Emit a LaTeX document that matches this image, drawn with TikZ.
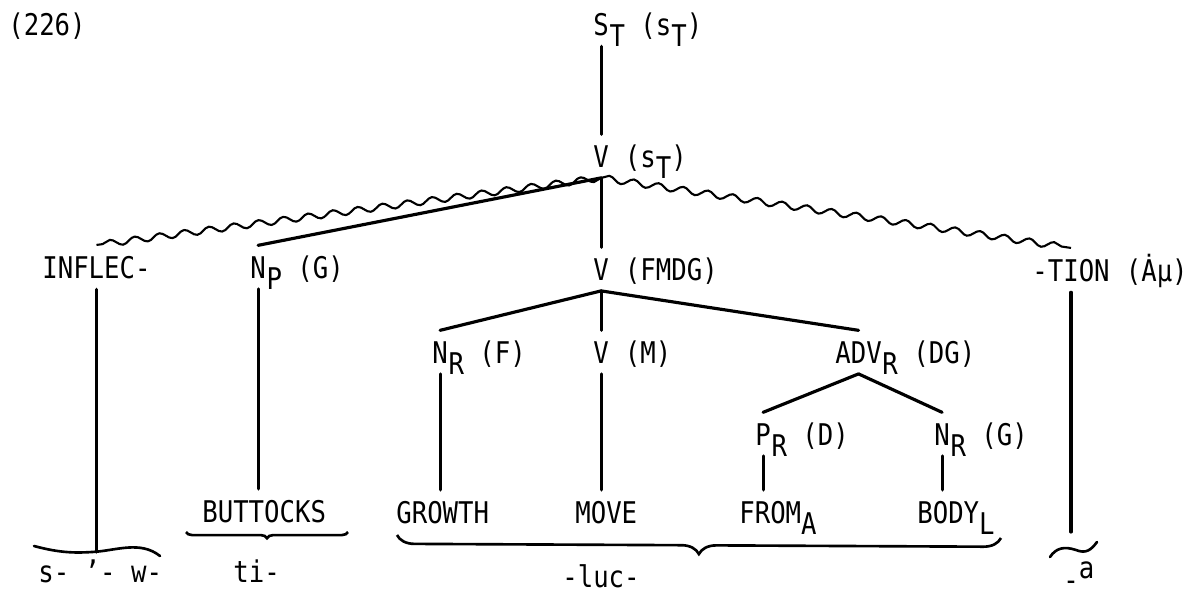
\documentclass[tikz,border=0pt]{standalone}
\usepackage{fontspec}
\setmonofont{DejaVu Sans Mono}[FakeStretch=0.86]
\usepackage{tikz}
\usetikzlibrary{decorations.pathmorphing,decorations.pathreplacing,calc}

\newcommand{\lowr}[1]{\raisebox{-6.5pt}{#1}}

\begin{document}
\begin{tikzpicture}[
        x=0.02cm, y=-0.02cm,
        every node/.style={font=\ttfamily\fontsize{17}{20}\selectfont, inner sep=0pt},
        cat/.style   ={anchor=base west, inner xsep=0pt, inner ysep=6pt},
        feat/.style  ={anchor=base west, inner sep=0pt},
        word/.style  ={anchor=base west, inner xsep=0pt, inner ysep=6pt},
        form/.style  ={anchor=base west, inner sep=0pt},
        branch/.style={line width=1.8pt, line cap=round},
        wavy/.style  ={line width=1.2pt, decorate,
                       decoration={snake, segment length=0.5cm, amplitude=0.065cm}},
        curly/.style ={line width=1.5pt, decorate,
                       decoration={brace, mirror, amplitude=#1}},
        squig/.style ={line width=1.5pt, line cap=round},
    ]
        \useasboundingbox (0,0) rectangle (1201,592);

        % ===================== number =====================
        \node[form] (num) at (8,35) {(226)};

        % ===================== top of the tree =====================
        \node[cat]  (st)     at (593,35)  {S};
        \node[feat] (stx)    at (st.base east) {\lowr{T}\ (s\lowr{T})};
        \node[cat]  (vst)    at (593,167) {V};
        \node[feat] (vstx)   at (vst.base east) {\ (s\lowr{T})};

        % ===================== second level =====================
        \node[cat]  (inflec) at (42,278)  {INFLEC-};
        \node[cat]  (np)     at (250,278) {N};
        \node[feat] (npx)    at (np.base east) {\lowr{P}\ (G)};
        \node[cat]  (vf)     at (593,280) {V};
        \node[feat] (vfx)    at (vf.base east) {\ (FMDG)};
        \node[cat]  (tion)   at (1032,281) {-TION};
        \node[feat] (tionx)  at (tion.base east) {\ (Ȧμ)};

        % ===================== third and fourth level =====================
        \node[cat]  (nrf)    at (432,363) {N};
        \node[feat] (nrfx)   at (nrf.base east) {\lowr{R}\ (F)};
        \node[cat]  (vm)     at (593,363) {V};
        \node[feat] (vmx)    at (vm.base east) {\ (M)};
        \node[cat]  (adv)    at (835,363) {ADV};
        \node[feat] (advx)   at (adv.base east) {\lowr{R}\ (DG)};
        \node[cat]  (pr)     at (755,445) {P};
        \node[feat] (prx)    at (pr.base east) {\lowr{R}\ (D)};
        \node[cat]  (nrg)    at (934,445) {N};
        \node[feat] (nrgx)   at (nrg.base east) {\lowr{R}\ (G)};

        % ===================== leaves =====================
        \node[word] (butt)   at (202,522) {BUTTOCKS};
        \node[word] (growth) at (396,523) {GROWTH};
        \node[word] (move)   at (575,523) {MOVE};
        \node[word] (from)   at (739,523) {FROM\lowr{A}};
        \node[word] (body)   at (917,523) {BODY\lowr{L}};

        % ===================== forms =====================
        \node[form] (sw)     at (38,582)  {s- ’- w-};
        \node[form] (ti)     at (233,582) {ti-};
        \node[form] (luc)    at (562,587) {-luc-};
        \node[form] (aa)     at (1063,580) {\raisebox{-6pt}[0pt][0pt]{-}\raisebox{1pt}{a}};

        % brace points
        \coordinate (infl) at (34,546);
        \coordinate (infm) at (92,552);
        \coordinate (infr) at (160,556);
        \coordinate (butl) at (186,532);
        \coordinate (butr) at (348,532);
        \coordinate (bigl) at (397,535);
        \coordinate (bigr) at (1001,538);
        \coordinate (tilm) at (1076,550);
        \coordinate (tilt) at (1076,532);

        % ===================== branches =====================
        \draw[branch] (st.south) -- (vst.north);
        \draw[branch] (vst.south) -- (vf.north);
        \draw[branch] (vst.south) -- (np.north);
        \draw[wavy]   (vst.south) -- (inflec.north);
        \draw[wavy]   (vst.south) -- (tion.north);

        \draw[branch] (vf.south) -- (nrf.north);
        \draw[branch] (vf.south) -- (vm.north);
        \draw[branch] (vf.south) -- (adv.north);
        \draw[branch] (adv.south) -- (pr.north);
        \draw[branch] (adv.south) -- (nrg.north);

        % down to the leaves
        \draw[branch] (inflec.south) -- (inflec.south |- infm);
        \draw[branch] (np.south) -- (np.south |- butt.north);
        \draw[branch] (nrf.south) -- (nrf.south |- growth.north);
        \draw[branch] (vm.south) -- (vm.south |- move.north);
        \draw[branch] (pr.south) -- (pr.south |- from.north);
        \draw[branch] (nrg.south) -- (nrg.south |- body.north);
        \draw[branch] (tion.south) -- (tion.south |- tilt);

        % braces
        \draw[squig] (infl) .. controls (60,553) and (75,553) .. (infm)
                            .. controls (115,551) and (140,540) .. (infr);
        \draw[curly=3.5pt] (butl) -- (butr);
        \draw[curly=10pt]  (bigl) -- (bigr);
        \draw[squig] (1050,557) .. controls (1056,548) and (1064,546) .. (tilm)
                                .. controls (1086,554) and (1091,550) .. (1097,542);
    \end{tikzpicture}
\end{document}
